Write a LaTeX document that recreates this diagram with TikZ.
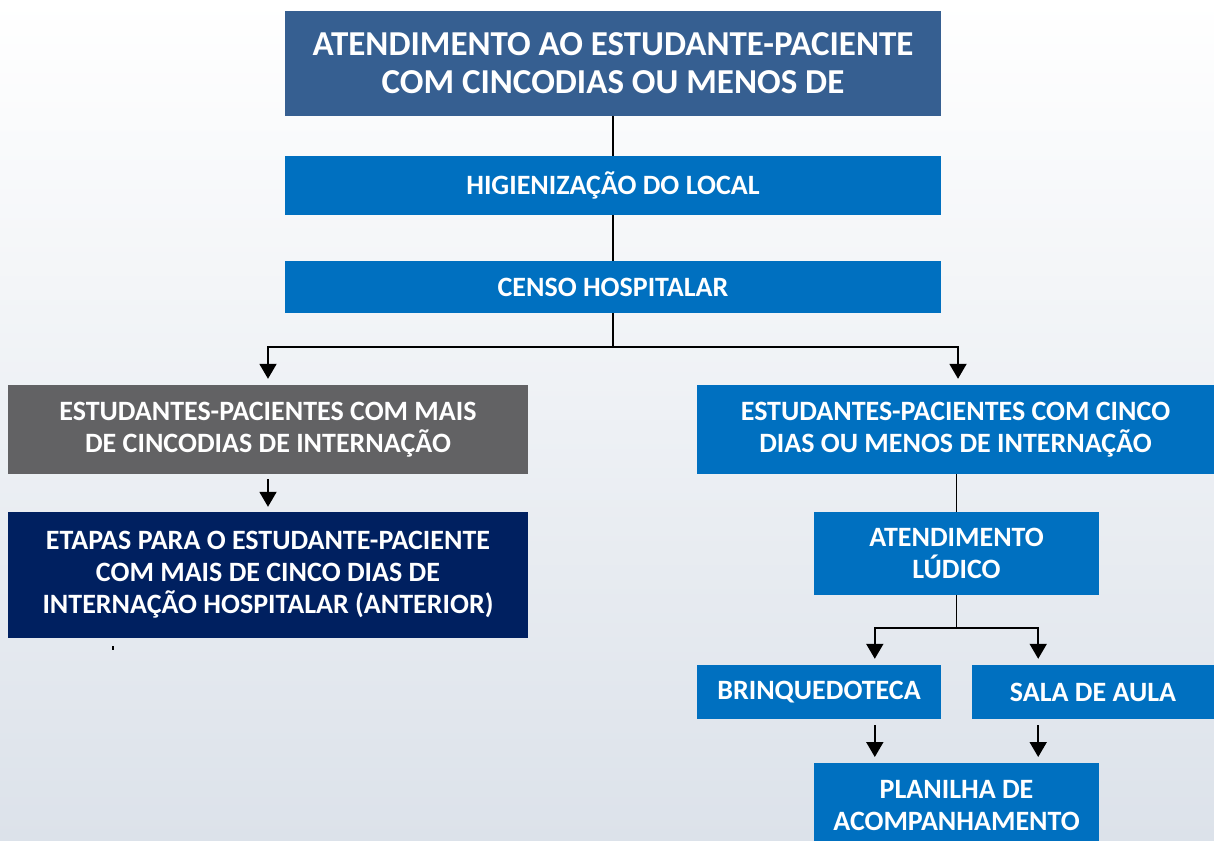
\documentclass[tikz,border=0pt]{standalone}
\usepackage{fontspec}
\setmainfont{Carlito}
\usetikzlibrary{arrows.meta,calc}
\definecolor{topblue}{RGB}{54,95,145}
\definecolor{midblue}{RGB}{0,112,192}
\definecolor{grayb}{RGB}{98,98,100}
\definecolor{navy}{RGB}{0,32,96}
\definecolor{bgbottom}{RGB}{220,226,234}
\definecolor{bgmid}{RGB}{244,246,249}
\tikzset{
  box/.style={rectangle, inner sep=0pt, text=white, align=center, font=\bfseries\fontsize{28}{32}\selectfont},
  conn/.style={draw=black, line width=1.9pt},
  arr/.style={conn, -{Triangle[width=17pt,length=15pt]}},
}
\begin{document}
\begin{tikzpicture}[x=1pt,y=-1pt]
\useasboundingbox (0,0) rectangle (1214,840);
\shade[top color=white, middle color=bgmid, bottom color=bgbottom] (0,0) rectangle (1214,840);
% nodes
\node[box, fill=topblue, minimum width=656pt, minimum height=105pt, font=\bfseries\fontsize{35}{38}\selectfont] (top) at (613,63.5) {ATENDIMENTO AO ESTUDANTE-PACIENTE\\COM CINCODIAS OU MENOS DE};
\node[box, fill=midblue, minimum width=656pt, minimum height=59pt] (hig) at (613,185.5) {HIGIENIZAÇÃO DO LOCAL};
\node[box, fill=midblue, minimum width=656pt, minimum height=52pt] (censo) at (613,287) {CENSO HOSPITALAR};
\node[box, fill=grayb, minimum width=520pt, minimum height=89pt] (mais) at (268,429.5) {ESTUDANTES-PACIENTES COM MAIS\\DE CINCODIAS DE INTERNAÇÃO};
\node[box, fill=navy, minimum width=520pt, minimum height=126pt] (etapas) at (268,575) {ETAPAS PARA O ESTUDANTE-PACIENTE\\COM MAIS DE CINCO DIAS DE\\INTERNAÇÃO HOSPITALAR (ANTERIOR)};
\node[box, fill=midblue, minimum width=517pt, minimum height=89pt] (menos) at (955.5,429.5) {ESTUDANTES-PACIENTES COM CINCO\\DIAS OU MENOS DE INTERNAÇÃO};
\node[box, fill=midblue, minimum width=285pt, minimum height=83pt] (ludico) at (956.5,553.5) {ATENDIMENTO\\LÚDICO};
\node[box, fill=midblue, minimum width=244pt, minimum height=54pt] (brinq) at (819,692) {BRINQUEDOTECA};
\node[box, fill=midblue, minimum width=242pt, minimum height=54pt] (sala) at (1093,692) {SALA DE AULA};
\node[box, fill=midblue, minimum width=285pt, minimum height=84pt, anchor=north] (plan) at (956.5,763) {PLANILHA DE\\ACOMPANHAMENTO};
\fill[black] (112,646) rectangle (114,650);
% connectors
\draw[conn] (top) -- (hig);
\draw[conn] (hig) -- (censo);
\draw[conn] (censo.south) -- ++(0,34) coordinate (f1);
\draw[arr] (f1) -| ($(mais.north)+(0,-6)$);
\draw[arr] (f1) -| ($(menos.north)+(2.5,-6)$);
\draw[arr] ($(mais.south)+(0,5)$) -- ($(etapas.north)+(0,-5)$);
\draw[conn] (menos.south -| ludico.north) -- (ludico.north);
\draw[conn] (ludico.south) -- ++(0,33) coordinate (f2);
\draw[arr] (f2) -| ($(brinq.north -| plan.north west)+(61,-6)$);
\draw[arr] (f2) -| ($(sala.north -| plan.north east)+(-61,-6)$);
\draw[arr] ($(brinq.south -| plan.north west)+(61,6)$) -- ($(plan.north west)+(61,-6)$);
\draw[arr] ($(sala.south -| plan.north east)+(-61,6)$) -- ($(plan.north east)+(-61,-6)$);
\end{tikzpicture}
\end{document}
